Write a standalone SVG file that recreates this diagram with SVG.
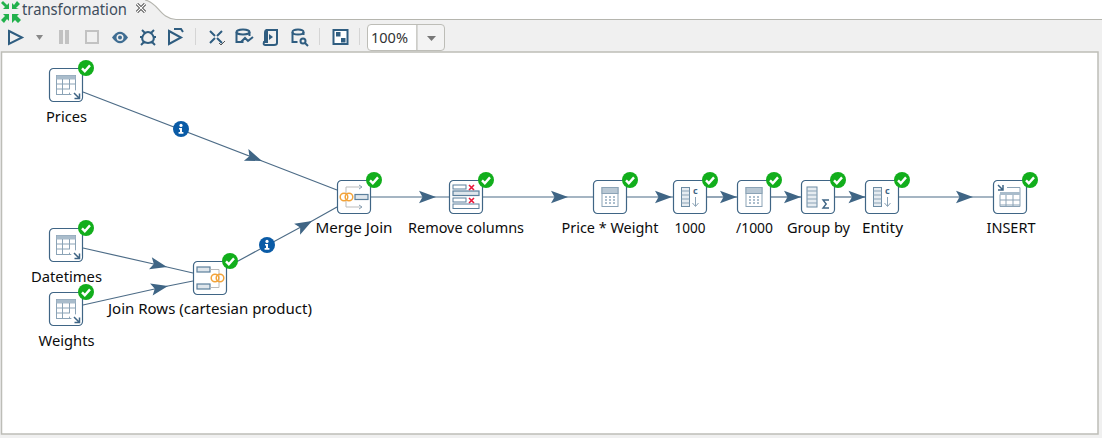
<svg xmlns="http://www.w3.org/2000/svg" xmlns:xlink="http://www.w3.org/1999/xlink" width="1102" height="438" viewBox="0 0 1102 438">
<style>
text{font-family:"Noto Sans","Open Sans","Liberation Sans",sans-serif;font-size:14.5px;fill:#0c0c0c}
.lb{text-anchor:middle}
.box{fill:#fff;stroke:#3f6585;stroke-width:1.2}
.ico{fill:none;stroke:#8ba3b6;stroke-width:1}
.fill{fill:#dfe6ec;stroke:#5b7f9c;stroke-width:1.2}
.dk{fill:none;stroke:#3f6585;stroke-width:1.5}
.tb{fill:none;stroke:#2f5d80;stroke-width:2}
.cn{fill:none;stroke:#4d6c87;stroke-width:1.2;marker-mid:url(#ah)}
</style>
<defs>
<marker id="ah" markerUnits="userSpaceOnUse" markerWidth="20" markerHeight="14" refX="17" refY="7" orient="auto" overflow="visible"><path d="M0 0.800L17 7L0 13.200L3.500 7Z" fill="#3f6585"/></marker>
<g id="ok"><circle r="8" fill="#12ae1c"/><path d="M-4 0.300L-1.200 3.200L4 -2.600" fill="none" stroke="#fff" stroke-width="2.400"/></g>
<g id="inf"><circle r="8" fill="#0a5ba6"/><circle cy="-3.600" r="1.600" fill="#fff"/><path d="M-2 -1H1V3H2.400V4.800H-2.400V3H-1V0.600H-2Z" fill="#fff"/></g>
<g id="b"><rect x="0.500" y="0.500" width="33" height="33" rx="4" class="box"/></g>
<g id="grid"><rect x="7.500" y="7.500" width="19" height="19" class="ico"/><rect x="7.500" y="7.500" width="19" height="4" fill="#a9bccb"/><path d="M7.500 16h19M7.500 21h13M13.500 11v15M20.500 11v15" class="ico"/></g>
<g id="calc"><rect x="9" y="7.500" width="16" height="19" class="ico"/><rect x="9" y="7.500" width="16" height="6" fill="#b9c8d4" stroke="#8ba3b6"/><path d="M12 17h2M16 17h2M20 17h2M12 20h2M16 20h2M20 20h2M12 23h2M16 23h2M20 23h2" stroke="#5b7f9c" stroke-width="1.100" fill="none"/></g>
<g id="calcmeta"><rect x="8.500" y="7.500" width="8" height="19" fill="#e6ecf1" stroke="#6d8ca4"/><path d="M8.500 11h8M8.500 15h8M8.500 19h8M8.500 23h8" class="ico"/></g>
</defs>

<rect width="1102" height="438" fill="#f0f0f0"/>
<path d="M145 0C158 2 160 19 176 19.500H1102V0Z" fill="#fff"/>
<path d="M145 0C158 2 160 19 176 19.500H1102" fill="none" stroke="#b5b5ae" stroke-width="1.200"/>
<rect x="1.500" y="52" width="1096.500" height="382" fill="#fff" stroke="#bdbdb7" stroke-width="1.500"/>

<g id="tab" fill="#22b14c">
<path d="M3 1L1 3L5 7L3 9H9V3L7 5Z"/><path d="M16 1L18 3L14 7L12 9H18" fill="none"/><path d="M15 1L18 4L14 8L17 9H10V3L12 5Z" transform="translate(2 0)"/>
<path d="M3 17L1 15L5 11L3 9.500" fill="none"/><path d="M1 20L4 23L7 19L9 21V14H3L5 16Z"/><path d="M19 23L16 20L13 23V14H20L18 16L22 20Z" transform="translate(-1 0)" fill="#22b14c"/>
<text x="22" y="15" style="font-size:15.500px;fill:#3e4d5c" textLength="105" lengthAdjust="spacingAndGlyphs">transformation</text>
<path d="M137 4l8 8M145 4l-8 8" stroke="#333" stroke-width="3" fill="none"/><path d="M137 4l8 8M145 4l-8 8" stroke="#fff" stroke-width="1.200" fill="none"/>
</g>

<g id="toolbar">
<path d="M9 31L22 37.500L9 44Z" class="tb"/>
<path d="M36 35h7l-3.500 5z" fill="#888"/>
<path d="M59 30h4v14h-4zM65 30h4v14h-4z" fill="#c2c2c2"/>
<rect x="86" y="31" width="12" height="12" fill="none" stroke="#c2c2c2" stroke-width="2"/>
<path d="M112 37.500Q120 26 128 37.500Q120 49 112 37.500Z" fill="#3f6d92"/><circle cx="120" cy="37.500" r="3.500" fill="#f0f0f0"/><circle cx="120" cy="37.500" r="2" fill="#3f6d92"/>
<path d="M144 34q4 -4 8 0q3 4 1 7q-5 4 -10 0q-2 -3 1 -7ZM142 30l3 3M154 30l-3 3M140 37h3M153 37h3M141 45l3 -3M155 45l-3 -3" class="tb" stroke-width="1.700"/>
<path d="M169 31L181 37.500L169 44ZM174 29h7l2 3" class="tb"/>
<rect x="195" y="28" width="1" height="17" fill="#d5d5d5"/>
<path d="M210 31l5 5M222 31l-5 5M210 43l5 -5M222 43l-5 -5" class="tb" stroke-width="2.600"/><path d="M219 43l2 2l4 -4" fill="none" stroke="#555" stroke-width="1"/>
<ellipse cx="243" cy="32" rx="6.500" ry="2.500" class="tb" stroke-width="1.500"/><path d="M236.500 32v10h7M249.500 32v4M241 42l4 -4l3 3l5 -4" class="tb" stroke-width="1.500"/>
<path d="M267 30h10v13q0 2 -3 2h-9q-2 0 -1 -3h3ZM267 30q-2 0 -2 3v9" class="tb" stroke-width="1.500"/><path d="M269 34l4 3l-4 3z" fill="#2f5d80"/>
<ellipse cx="298" cy="32" rx="5.500" ry="2.500" class="tb" stroke-width="1.500"/><path d="M292.500 32v10h5M303.500 32v3" class="tb" stroke-width="1.500"/><circle cx="303" cy="41" r="2.500" class="tb" stroke-width="1.500"/><path d="M305 43l3 3" class="tb" stroke-width="1.500"/>
<rect x="319" y="28" width="1" height="17" fill="#d5d5d5"/>
<rect x="333.500" y="30" width="14" height="14" fill="#fff" stroke="#2f5d80" stroke-width="2"/><rect x="336" y="32" width="4.500" height="4.500" fill="#2f5d80"/><rect x="341" y="38" width="4.500" height="4.500" fill="#2f5d80"/>
<rect x="359" y="28" width="1" height="17" fill="#d5d5d5"/>
<path d="M371 24.500H417V50.500H371Q367.500 50.500 367.500 47V28Q367.500 24.500 371 24.500Z" fill="#fff" stroke="#bdbdb7"/>
<path d="M417 24.500H441Q444.500 24.500 444.500 28V47Q444.500 50.500 441 50.500H417Z" fill="#f3f3f3" stroke="#bdbdb7"/>
<path d="M427 36h9l-4.500 5z" fill="#777"/>
<text x="371" y="43" style="fill:#333" textLength="37" lengthAdjust="spacingAndGlyphs">100%</text>
</g>

<g id="connectors">
<path class="cn" d="M83 92L262 161L337 190"/>
<path class="cn" d="M83 248L167 267L193 273"/>
<path class="cn" d="M83 305L168 286L193 281"/>
<path class="cn" d="M227 267L312 221L337 207"/>
<path class="cn" d="M371 197H436H449"/>
<path class="cn" d="M483 197H568H593"/>
<path class="cn" d="M627 197H672H673"/>
<path class="cn" d="M707 197H737H737.100"/>
<path class="cn" d="M771 197H801H801.100"/>
<path class="cn" d="M835 197H865.500H865.600"/>
<path class="cn" d="M899 197H973H993"/>
<use xlink:href="#inf" href="#inf" x="181" y="129"/>
<use xlink:href="#inf" href="#inf" x="267" y="245"/>
</g>

<g id="prices" transform="translate(49 68)"><use href="#b"/><use href="#grid"/><path d="M21 21l10 10" stroke="#fff" stroke-width="6"/><path d="M25 25l5.500 5.500M30.500 25.500v5h-5" class="dk"/><use href="#ok" x="37" y="0"/><text class="lb" x="17.500" y="54" textLength="41" lengthAdjust="spacingAndGlyphs">Prices</text></g>
<g id="datetimes" transform="translate(49 228)"><use href="#b"/><use href="#grid"/><path d="M21 21l10 10" stroke="#fff" stroke-width="6"/><path d="M25 25l5.500 5.500M30.500 25.500v5h-5" class="dk"/><use href="#ok" x="37" y="0"/><text class="lb" x="17.500" y="54" textLength="71" lengthAdjust="spacingAndGlyphs">Datetimes</text></g>
<g id="weights" transform="translate(49 292)"><use href="#b"/><use href="#grid"/><path d="M21 21l10 10" stroke="#fff" stroke-width="6"/><path d="M25 25l5.500 5.500M30.500 25.500v5h-5" class="dk"/><use href="#ok" x="37" y="0"/><text class="lb" x="17.500" y="54" textLength="56" lengthAdjust="spacingAndGlyphs">Weights</text></g>

<g id="joinrows" transform="translate(193 261)"><use href="#b"/><rect x="4" y="6" width="13" height="5" class="fill"/><rect x="4" y="23" width="13" height="5" class="fill"/><path d="M17 8.500h9v18h-9" fill="none" stroke="#bbb"/><circle cx="22" cy="17" r="3.800" fill="#fff" stroke="#f2a33a" stroke-width="1.500"/><circle cx="27" cy="17" r="3.800" fill="none" stroke="#f2a33a" stroke-width="1.500"/><use href="#ok" x="37" y="0"/><text class="lb" x="17" y="53" textLength="204" lengthAdjust="spacingAndGlyphs">Join Rows (cartesian product)</text></g>

<g id="mergejoin" transform="translate(337 180)"><use href="#b"/><path d="M9 13V7h16M9 21v6h16" fill="none" stroke="#bbb"/><path d="M22 5l3 2l-3 2M22 25l3 2l-3 2" class="ico"/><rect x="18" y="14.500" width="13" height="5" class="fill"/><circle cx="7" cy="17" r="3.800" fill="#fff" stroke="#f2a33a" stroke-width="1.500"/><circle cx="12" cy="17" r="3.800" fill="none" stroke="#f2a33a" stroke-width="1.500"/><use href="#ok" x="37" y="0"/><text class="lb" x="17" y="53" textLength="77" lengthAdjust="spacingAndGlyphs">Merge Join</text></g>

<g id="removecolumns" transform="translate(449 180)"><use href="#b"/><rect x="4" y="5" width="13" height="4" fill="#fff" stroke="#5b7f9c"/><rect x="4" y="11" width="26" height="4.500" class="fill"/><rect x="4" y="18" width="13" height="4" fill="#fff" stroke="#5b7f9c"/><rect x="4" y="24" width="26" height="4.500" fill="#fff" stroke="#5b7f9c"/><path d="M20 5l5 5M25 5l-5 5M20 18l5 5M25 18l-5 5" stroke="#e8173a" stroke-width="1.600"/><use href="#ok" x="37" y="0"/><text class="lb" x="17" y="53" textLength="116" lengthAdjust="spacingAndGlyphs">Remove columns</text></g>

<g id="priceweight" transform="translate(593 180)"><use href="#b"/><use href="#calc"/><use href="#ok" x="37" y="0"/><text class="lb" x="17" y="53" textLength="97" lengthAdjust="spacingAndGlyphs">Price * Weight</text></g>
<g id="n1000" transform="translate(673 180)"><use href="#b"/><use href="#calcmeta"/><text x="20" y="14" style="font-size:9px;font-weight:bold;fill:#3f6585">c</text><path d="M22.500 17v9M19.500 23l3 3.500l3 -3.500" class="ico" stroke="#5b7f9c"/><use href="#ok" x="37" y="0"/><text class="lb" x="17" y="53" textLength="31" lengthAdjust="spacingAndGlyphs">1000</text></g>
<g id="div1000" transform="translate(737 180)"><use href="#b"/><use href="#calc"/><use href="#ok" x="37" y="0"/><text class="lb" x="17.500" y="53" textLength="37" lengthAdjust="spacingAndGlyphs">/1000</text></g>
<g id="groupby" transform="translate(801 180)"><use href="#b"/><rect x="6" y="7" width="10" height="20" fill="#e6ecf1" stroke="#6d8ca4"/><path d="M6 11h10M6 15h10M6 19h10M6 23h10" class="ico"/><path d="M28 20h-6l3.200 4l-3.200 4h6" fill="none" stroke="#3f6585" stroke-width="1.400"/><use href="#ok" x="37" y="0"/><text class="lb" x="17.500" y="53" textLength="63" lengthAdjust="spacingAndGlyphs">Group by</text></g>
<g id="entity" transform="translate(865 180)"><use href="#b"/><use href="#calcmeta"/><text x="20" y="14" style="font-size:9px;font-weight:bold;fill:#3f6585">c</text><path d="M22.500 17v9M19.500 23l3 3.500l3 -3.500" class="ico"/><use href="#ok" x="37" y="0"/><text class="lb" x="17.500" y="53" textLength="41" lengthAdjust="spacingAndGlyphs">Entity</text></g>
<g id="insert" transform="translate(993 180)"><use href="#b"/><path d="M14 7.500h13v19h-20v-12" class="ico"/><rect x="7" y="12" width="20" height="3" fill="#a9bccb"/><path d="M7 20h20M7 25h20M13 15v11M20 15v11" class="ico"/><path d="M5 5l5 5M10 5v5h-5" class="dk"/><use href="#ok" x="37" y="0"/><text class="lb" x="18" y="53" textLength="49" lengthAdjust="spacingAndGlyphs">INSERT</text></g>
</svg>
